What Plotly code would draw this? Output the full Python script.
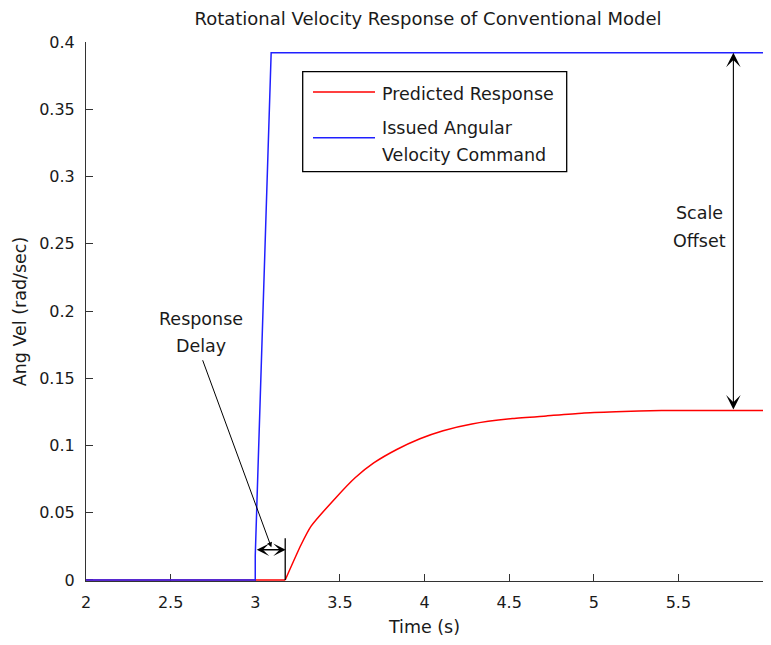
import plotly.graph_objects as go

# ---- data ----
time_cmd = [2.0, 3.0, 3.0, 3.094, 6.0]
vel_cmd = [0.0, 0.0, 0.018, 0.392, 0.392]

time_resp = [2.0, 3.177, 3.27, 3.33, 3.475, 3.59, 3.70, 3.836, 3.973, 4.11, 4.28,
             4.52, 4.72, 4.93, 5.13, 5.40, 5.73, 6.0]
vel_resp = [0.0, 0.0, 0.026, 0.040, 0.061, 0.076, 0.087, 0.097, 0.105, 0.111, 0.116,
            0.120, 0.122, 0.124, 0.125, 0.126, 0.126, 0.126]

x_ticks = [2, 2.5, 3, 3.5, 4, 4.5, 5, 5.5, 6]
x_tick_labels = ["2", "2.5", "3", "3.5", "4", "4.5", "5", "5.5", "6"]
y_ticks = [0, 0.05, 0.1, 0.15, 0.2, 0.25, 0.3, 0.35, 0.4]
y_tick_labels = ["0", "0.05", "0.1", "0.15", "0.2", "0.25", "0.3", "0.35", "0.4"]

# annotation anchor values (data units)
offset_time = 5.825
offset_top = 0.392
offset_bottom = 0.1257
delay_start = 3.0
delay_end = 3.18
delay_level = 0.0225
delay_tick_top = 0.031
delay_pointer_from = (2.686, 0.1645)
delay_pointer_to = (3.095, 0.0243)

FONT = "DejaVu Sans"
TXT = "#1a1a1a"
OFF = 8                  # page body margin
W, H = 755, 629          # fits the 771x645 window without scrolling
L, R, T, B = 78, 0, 34, 56
PW = W - L - R
PH = H - T - B

fig = go.Figure()
# flat (pre-response) part of the predicted response
fig.add_trace(go.Scatter(x=time_resp[:2], y=vel_resp[:2], mode="lines",
                         name="Predicted Response",
                         line=dict(color="#ff0000", width=1.5), showlegend=False))
# rising part of the predicted response
fig.add_trace(go.Scatter(x=time_resp[1:], y=vel_resp[1:], mode="lines",
                         name="Predicted Response",
                         line=dict(color="#ff0000", width=1.5, shape="spline", smoothing=0.6),
                         showlegend=False))
fig.add_trace(go.Scatter(x=time_cmd, y=vel_cmd, mode="lines",
                         name="Issued Angular Velocity Command",
                         line=dict(color="#2020ff", width=1.5), showlegend=False))

annotations = []
annotations.append(dict(x=offset_time, y=offset_top, ax=offset_time, ay=offset_bottom,
                        xref="x", yref="y", axref="x", ayref="y", text="", showarrow=True,
                        arrowhead=3, startarrowhead=3, arrowside="end+start",
                        arrowsize=2.2, startarrowsize=2.2, arrowwidth=1.1, arrowcolor="black",
                        standoff=0, startstandoff=0))
annotations.append(dict(x=delay_end, y=delay_level, ax=delay_start, ay=delay_level,
                        xref="x", yref="y", axref="x", ayref="y", text="", showarrow=True,
                        arrowhead=3, startarrowhead=3, arrowside="end+start",
                        arrowsize=1.6, startarrowsize=1.6, arrowwidth=1.3, arrowcolor="black",
                        standoff=0, startstandoff=0))
annotations.append(dict(x=delay_pointer_to[0], y=delay_pointer_to[1],
                        ax=delay_pointer_from[0], ay=delay_pointer_from[1],
                        xref="x", yref="y", axref="x", ayref="y", text="", showarrow=True,
                        arrowhead=2, arrowsize=1, arrowwidth=1, arrowcolor="black", standoff=0))

def label(text, x, y, xref="x", yref="y", xanchor="center"):
    return dict(x=x, y=y, xref=xref, yref=yref, text=text, showarrow=False,
                xanchor=xanchor, yanchor="middle", font=dict(family=FONT, size=17.5, color=TXT))

annotations += [
    label("Scale", 5.626, 0.2731),
    label("Offset", 5.626, 0.2519),
    label("Response", 2.678, 0.1944),
    label("Delay", 2.678, 0.1737),
]

def py(screen_y):  # screen pixel -> paper fraction
    return (OFF + T + PH - screen_y) / PH

def px(screen_x):
    return (screen_x - OFF - L) / PW

annotations += [
    label("Predicted Response", px(380), py(94.5), "paper", "paper", "left"),
    label("Issued Angular", px(380), py(127.5), "paper", "paper", "left"),
    label("Velocity Command", px(380), py(155.5), "paper", "paper", "left"),
]

shapes = [
    dict(type="line", xref="x", yref="y", x0=delay_end - 0.003, x1=delay_end - 0.003,
         y0=0, y1=delay_tick_top, line=dict(color="black", width=1.3)),
    dict(type="rect", xref="paper", yref="paper", x0=px(302.7), x1=px(566.7),
         y0=py(171.7), y1=py(71.7),
         line=dict(color="black", width=1.3), fillcolor="white", layer="above"),
    dict(type="line", xref="paper", yref="paper", x0=px(313), x1=px(375), y0=py(92), y1=py(92),
         line=dict(color="#ff0000", width=1.5)),
    dict(type="line", xref="paper", yref="paper", x0=px(313), x1=px(375),
         y0=py(137.7), y1=py(137.7), line=dict(color="#2020ff", width=1.5)),
]

axis_common = dict(ticks="inside", ticklen=7, tickwidth=1, tickcolor="#333",
                   showline=True, linecolor="#333", linewidth=1, showgrid=False,
                   zeroline=False, layer="below traces", automargin=False,
                   ticklabelstandoff=7,
                   tickfont=dict(family=FONT, size=16, color=TXT))

fig.update_layout(
    width=W, height=H,
    margin=dict(l=L, r=R, t=T, b=B, autoexpand=False),
    paper_bgcolor="white", plot_bgcolor="white",
    title=dict(text="Rotational Velocity Response of Conventional Model",
               x=(428 - OFF) / W, xref="container", xanchor="center",
               y=1 - (19 - OFF) / H, yref="container", yanchor="middle",
               font=dict(family=FONT, size=18, color=TXT)),
    xaxis=dict(range=[2, 6], tickvals=x_ticks, ticktext=x_tick_labels,
               title=dict(text="Time (s)", font=dict(family=FONT, size=17.5, color=TXT),
                          standoff=10),
               **axis_common),
    yaxis=dict(range=[-0.00075, 0.4], tickvals=y_ticks, ticktext=y_tick_labels,
               title=dict(text="Ang Vel (rad/sec)", font=dict(family=FONT, size=17.5, color=TXT),
                          standoff=8),
               **axis_common),
    annotations=annotations,
    shapes=shapes,
    showlegend=False,
)

fig.write_html("out.html")
